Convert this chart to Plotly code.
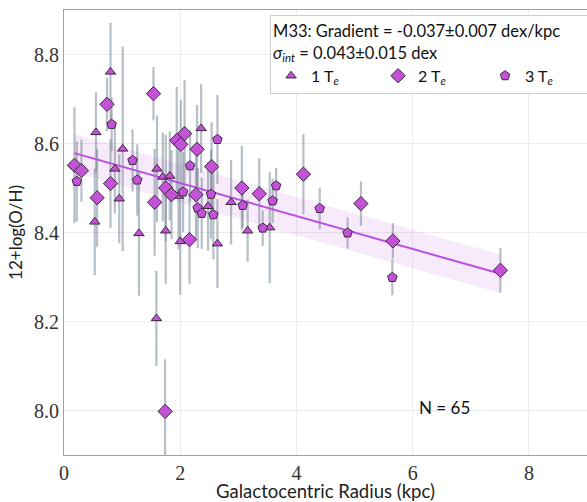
import plotly.graph_objects as go

# ---- data ----
t1_r = [0.80, 0.55, 2.36, 1.01, 0.875, 1.60, 1.70, 1.82, 0.95, 1.97, 2.875, 2.48, 0.53, 1.29, 1.75, 2.00, 2.64, 3.16, 3.54, 1.59]
t1_oh = [8.761, 8.625, 8.634, 8.588, 8.543, 8.543, 8.525, 8.527, 8.476, 8.482, 8.468, 8.459, 8.424, 8.398, 8.404, 8.380, 8.375, 8.404, 8.411, 8.207]
t1_err = [0.11, 0.09, 0.10, 0.23, 0.10, 0.12, 0.10, 0.10, 0.10, 0.12, 0.095, 0.10, 0.12, 0.14, 0.12, 0.12, 0.10, 0.07, 0.125, 0.107]

t2_r = [1.54, 0.74, 2.075, 1.94, 2.01, 2.29, 0.18, 0.30, 2.54, 0.80, 1.75, 1.85, 2.27, 0.57, 1.56, 2.16, 3.06, 3.36, 4.12, 5.11, 5.66, 7.51, 1.74]
t2_oh = [8.712, 8.688, 8.622, 8.607, 8.598, 8.587, 8.551, 8.539, 8.548, 8.510, 8.500, 8.485, 8.485, 8.478, 8.468, 8.384, 8.500, 8.487, 8.531, 8.465, 8.381, 8.315, 7.998]
t2_err = [0.06, 0.06, 0.12, 0.12, 0.10, 0.10, 0.13, 0.07, 0.10, 0.10, 0.12, 0.10, 0.10, 0.11, 0.12, 0.10, 0.095, 0.08, 0.09, 0.05, 0.04, 0.05, 0.117]

t3_r = [0.82, 2.64, 1.18, 0.22, 2.17, 1.26, 2.05, 2.53, 2.30, 2.37, 2.57, 3.65, 4.40, 3.075, 3.59, 3.42, 4.88, 5.65]
t3_oh = [8.643, 8.609, 8.562, 8.515, 8.550, 8.518, 8.491, 8.486, 8.455, 8.443, 8.440, 8.505, 8.454, 8.461, 8.471, 8.410, 8.399, 8.299]
t3_err = [0.06, 0.10, 0.07, 0.09, 0.08, 0.08, 0.09, 0.10, 0.09, 0.08, 0.10, 0.04, 0.047, 0.05, 0.05, 0.04, 0.035, 0.04]

fit_slope = -0.037
fit_intercept = 8.585
sigma_int = 0.043
fit_r = [0.18, 7.51]

# ---- styles ----
MCOL = "#c452d9"
ECOL = "rgba(112,128,144,0.5)"
LCOL = "#b84fe0"

fig = go.Figure()

fit_y = [fit_intercept + fit_slope * r for r in fit_r]
fig.add_trace(go.Scatter(x=fit_r + fit_r[::-1],
                         y=[v + sigma_int for v in fit_y] + [v - sigma_int for v in fit_y[::-1]],
                         fill="toself", fillcolor="rgba(186,85,211,0.12)",
                         line=dict(width=0), mode="lines", showlegend=False, hoverinfo="skip"))

for rr, oo, ee in [(t1_r, t1_oh, t1_err), (t2_r, t2_oh, t2_err), (t3_r, t3_oh, t3_err)]:
    fig.add_trace(go.Scatter(x=rr, y=oo, mode="markers",
                             marker=dict(size=1, color="rgba(0,0,0,0)"),
                             error_y=dict(type="data", array=ee, visible=True,
                                          color=ECOL, thickness=2.2, width=0),
                             showlegend=False, hoverinfo="skip"))

fig.add_trace(go.Scatter(x=fit_r, y=fit_y, mode="lines",
                         line=dict(color=LCOL, width=2), showlegend=False))

mline = dict(color="#3a2a3e", width=1)
fig.add_trace(go.Scatter(x=t1_r, y=t1_oh, mode="markers", name="1 T<sub><i>e</i></sub>",
                         marker=dict(symbol="triangle-up", size=9, color=MCOL, line=mline)))
fig.add_trace(go.Scatter(x=t2_r, y=t2_oh, mode="markers", name="2 T<sub><i>e</i></sub>",
                         marker=dict(symbol="diamond", size=11, color=MCOL, line=mline)))
fig.add_trace(go.Scatter(x=t3_r, y=t3_oh, mode="markers", name="3 T<sub><i>e</i></sub>",
                         marker=dict(symbol="pentagon", size=10, color=MCOL, line=mline)))

fig.add_annotation(x=0.728, y=0.106, xref="paper", yref="paper", text="N = 65",
                   showarrow=False, font=dict(family="Lato", size=17, color="#111"),
                   xanchor="center", yanchor="middle")

fig.update_layout(
    width=587, height=502,
    margin=dict(l=64, r=0, t=10, b=47, autoexpand=False),
    plot_bgcolor="white", paper_bgcolor="white",
    font=dict(family="Lato", color="#222"),
    legend=dict(
        x=0.394, y=0.989, xanchor="left", yanchor="top",
        orientation="h",
        title=dict(text="M33: Gradient = -0.037±0.007 dex/kpc<br><i>σ</i><sub><i>int</i></sub> = 0.043±0.015 dex",
                   side="top", font=dict(family="Lato", size=16.5, color="#111")),
        font=dict(family="Lato", size=16, color="#111"),
        bgcolor="rgba(255,255,255,0.9)", bordercolor="#d0d0d0", borderwidth=1,
        entrywidth=62, entrywidthmode="pixels",
    ),
    xaxis=dict(range=[0, 9], tickvals=[0, 2, 4, 6, 8], ticktext=["0", "2", "4", "6", "8"],
               showgrid=True, gridcolor="#ececec", zeroline=False,
               showline=True, linecolor="#a0a0a0", linewidth=1.2, mirror=True,
               ticks="", tickfont=dict(family="Liberation Serif", size=20, color="#333"),
               title=dict(text="Galactocentric Radius (kpc)", standoff=0,
                          font=dict(family="Lato", size=18.5, color="#222"))),
    yaxis=dict(range=[7.9, 8.9], tickvals=[8.0, 8.2, 8.4, 8.6, 8.8],
               ticktext=["8.0", "8.2", "8.4", "8.6", "8.8"],
               showgrid=True, gridcolor="#ececec", zeroline=False,
               showline=True, linecolor="#a0a0a0", linewidth=1.2,
               ticks="", tickfont=dict(family="Liberation Serif", size=20, color="#333"),
               title=dict(text="12+log(O/H)", standoff=6,
                          font=dict(family="Lato", size=17, color="#222"))),
)

fig.write_html("out.html",
               config={"responsive": False, "displayModeBar": False},
               post_script="document.body.style.margin='0';document.body.style.overflow='hidden';")
